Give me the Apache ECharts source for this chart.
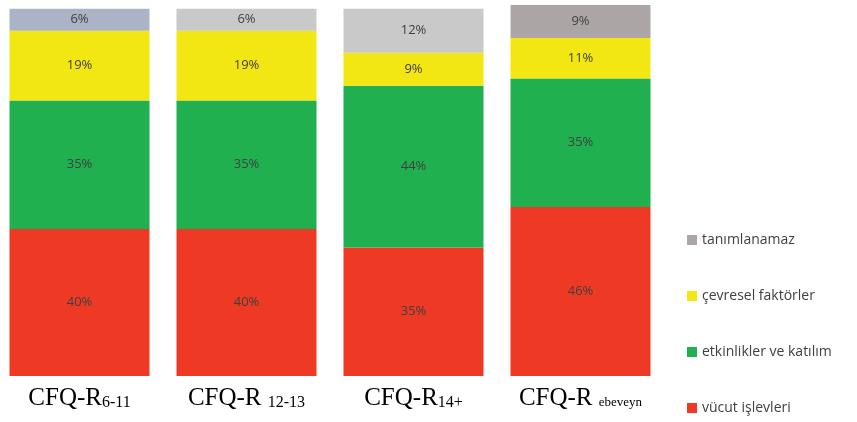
<!DOCTYPE html>
<html>
<head>
<meta charset="utf-8">
<title>CFQ-R</title>
<script src="https://cdn.jsdelivr.net/npm/echarts@6/dist/echarts.min.js"></script>
<style>
    html, body { margin: 0; padding: 0; background: #fff; }
    #main { width: 857px; height: 422px; }
</style>
</head>
<body>
<div id="main"></div>
<script>
    var categories = ['CFQ-R{sub|6-11}', 'CFQ-R {sub|12-13}', 'CFQ-R{sub|14+}', 'CFQ-R {small|ebeveyn}'];
    var vucut = [40, 40, 35, 46];
    var etkinlik = [35, 35, 44, 35];
    var cevresel = [19, 19, 9, 11];
    var tanimsiz = [6, 6, 12, 9];
    var tanimsizColors = ['#aab4c6', '#c9c9c9', '#c9c9c9', '#aba6a5'];

    var chart = echarts.init(document.getElementById('main'));

    var label = {
        show: true,
        position: 'inside',
        formatter: '{c}%',
        color: '#404040',
        fontFamily: 'Open Sans',
        fontSize: 13
    };

    function serie(name, data, color) {
        return {
            name: name,
            type: 'bar',
            stack: 'total',
            barWidth: 140,
            data: data,
            itemStyle: { color: color },
            label: label
        };
    }

    var greySerie = serie('tanımlanamaz', tanimsiz.map(function (v, i) {
        return { value: v, itemStyle: { color: tanimsizColors[i] } };
    }), '#aba6a5');

    var option = {
        animation: false,
        grid: { left: -4, width: 668, top: 5, bottom: 46, containLabel: false, outerBoundsMode: 'none' },
        legend: {
            orient: 'vertical',
            left: 687,
            top: 231,
            padding: 0,
            itemWidth: 10,
            itemHeight: 10,
            itemGap: 38,
            icon: 'rect',
            data: ['tanımlanamaz', 'çevresel faktörler', 'etkinlikler ve katılım', 'vücut işlevleri'],
            textStyle: { color: '#404040', fontFamily: 'Open Sans', fontSize: 14, lineHeight: 18 }
        },
        xAxis: {
            type: 'category',
            data: categories,
            axisLine: { show: false },
            axisTick: { show: false },
            axisLabel: {
                interval: 0,
                margin: 10,
                color: '#000',
                fontFamily: 'Liberation Serif',
                fontSize: 25,
                rich: {
                    sub: { fontFamily: 'Liberation Serif', fontSize: 16, color: '#000', padding: [8, 0, 0, 0] },
                    small: { fontFamily: 'Liberation Serif', fontSize: 13, color: '#000', padding: [8, 0, 0, 0] }
                }
            }
        },
        yAxis: { type: 'value', min: 0, max: 101, show: false, splitLine: { show: false } },
        series: [
            serie('vücut işlevleri', vucut, '#ee3a24'),
            serie('etkinlikler ve katılım', etkinlik, '#21b04f'),
            serie('çevresel faktörler', cevresel, '#f2e613'),
            greySerie
        ]
    };
    chart.setOption(option);
</script>
</body>
</html>
